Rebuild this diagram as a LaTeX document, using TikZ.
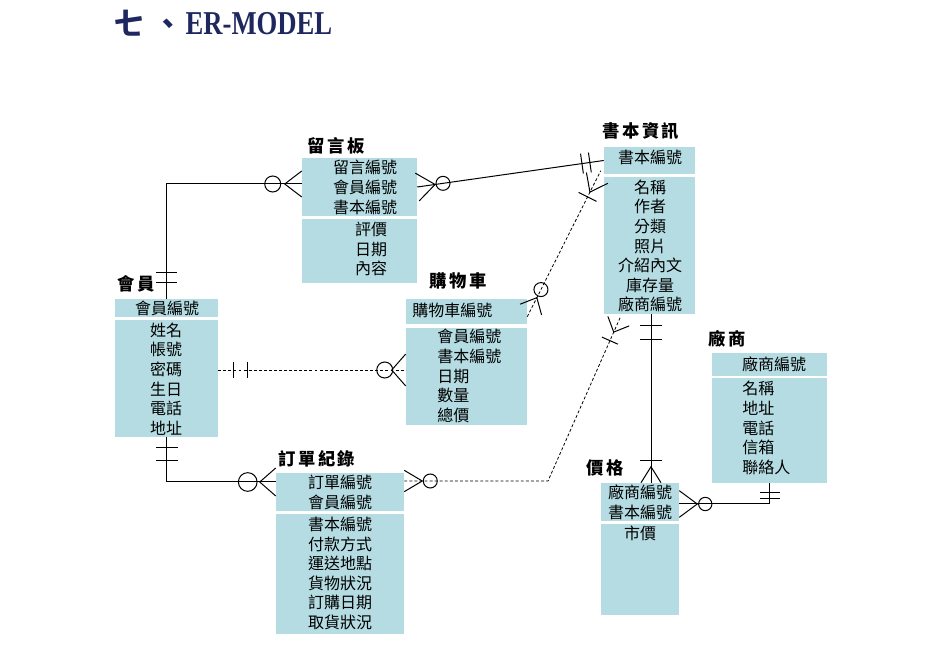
\documentclass[tikz,border=0pt]{standalone}
\usepackage{fontspec}
\usetikzlibrary{calc,fit}
\newfontfamily\cjk{Noto Sans CJK TC}
\newfontfamily\cjklab[LetterSpace=14]{Noto Sans CJK TC}
\newfontfamily\titlefont[FakeStretch=0.8]{Liberation Serif}
\definecolor{boxfill}{RGB}{180,220,226}
\definecolor{titleblue}{RGB}{30,40,95}
\newcommand{\erbar}[4]{\draw[mk] ($($(#1)!#3!(#2)$)!#4!90:(#2)$) -- ($($(#1)!#3!(#2)$)!#4!-90:(#2)$);}
\newcommand{\erfoot}[5]{\draw[mk] ($($(#1)!#3!(#2)$)!#5!90:(#2)$) -- ($(#1)!#4!(#2)$) -- ($($(#1)!#3!(#2)$)!#5!-90:(#2)$);}
\newcommand{\ercirc}[4]{\draw[mk] ($(#1)!#3!(#2)$) circle (#4);}
\tikzset{
  box/.style={rectangle, fill=boxfill, draw=none, inner sep=0pt},
  attr/.style={font={\cjk\fontsize{12}{14.7}\selectfont}, inner sep=0pt, align=center},
  lab/.style={font={\cjklab\bfseries\fontsize{13}{15}\selectfont}, inner sep=0pt},
  conn/.style={line width=0.75pt},
  dconn/.style={line width=0.6pt, dash pattern=on 2.2pt off 1.6pt},
  mk/.style={line width=0.75pt, solid}
}
\begin{document}
\begin{tikzpicture}[x=0.75pt,y=-0.75pt]
\useasboundingbox (0,0) rectangle (926,659);
% title
\node[anchor=base west, inner sep=0pt, text=titleblue] (title) at (114,35)
  {{\cjk\bfseries\fontsize{22}{24}\selectfont 七\hspace{7.5pt}、}\hspace{2pt}{\titlefont\bfseries\fontsize{25}{28}\selectfont ER-MODEL}};
% boxes
\node[box, fit={(302,158) (417,216)}] (msg1) {};
\node[box, fit={(302,219) (417,283)}] (msg2) {};
\node[box, fit={(115,299) (218,317)}] (mem1) {};
\node[box, fit={(115,320) (218,437)}] (mem2) {};
\node[box, fit={(406,299) (527,324)}] (cart1) {};
\node[box, fit={(406,328) (527,425)}] (cart2) {};
\node[box, fit={(604,147) (695,174)}] (book1) {};
\node[box, fit={(604,177) (695,314)}] (book2) {};
\node[box, fit={(712,353) (827,376)}] (ven1) {};
\node[box, fit={(712,378) (827,483)}] (ven2) {};
\node[box, fit={(601,483) (679,521)}] (price1) {};
\node[box, fit={(601,524) (679,615)}] (price2) {};
\node[box, fit={(276,473) (404,511)}] (ord1) {};
\node[box, fit={(276,514) (404,634)}] (ord2) {};
% labels
\node[lab] (lmsg) at (336,146) {留言板};
\node[lab] (lmem) at (136,284) {會員};
\node[lab] (lcart) at (458,280.5) {購物車};
\node[lab] (lbook) at (641,131.5) {書本資訊};
\node[lab] (lven) at (727,339) {廠商};
\node[lab] (lprice) at (605,468) {價格};
\node[lab] (lord) at (317,459) {訂單紀錄};
% texts
\node[attr] (tmsg1) at (365,187.5) {留言編號\\會員編號\\書本編號};
\node[attr] (tmsg2) at (371,249) {評價\\日期\\內容};
\node[attr] (tmem1) at (167,308) {會員編號};
\node[attr] (tmem2) at (166,379) {姓名\\帳號\\密碼\\生日\\電話\\地址};
\node[attr, anchor=west] (tcart1) at (412,310.5) {購物車編號};
\node[attr, anchor=west, align=left] (tcart2) at (437,376) {會員編號\\書本編號\\日期\\數量\\總價};
\node[attr] (tbook1) at (650,157) {書本編號};
\node[attr] (tbook2) at (650,246) {名稱\\作者\\分類\\照片\\介紹內文\\庫存量\\廠商編號};
\node[attr] (tven1) at (774,364.5) {廠商編號};
\node[attr, anchor=west, align=left] (tven2) at (742,428) {名稱\\地址\\電話\\信箱\\聯絡人};
\node[attr] (tprice1) at (640,502) {廠商編號\\書本編號};
\node[attr] (tprice2) at (640,533) {市價};
\node[attr] (tord1) at (340,492.5) {訂單編號\\會員編號};
\node[attr] (tord2) at (340,573.5) {書本編號\\付款方式\\運送地點\\貨物狀況\\訂購日期\\取貨狀況};
% A: member - message board
\coordinate (cA) at (166.5,184);
\draw[conn] (mem1.north) -- (cA) -- (msg1.west |- cA);
\erbar{mem1.north}{cA}{12pt}{8pt}
\erbar{mem1.north}{cA}{19.5pt}{8pt}
\erfoot{msg1.west |- cA}{cA}{0pt}{12.75pt}{9.75pt}
\ercirc{msg1.west |- cA}{cA}{21.75pt}{6pt}
% B: message board - book
\draw[conn] (msg1.east) -- (book1.west);
\erfoot{msg1.east}{book1.west}{0pt}{13.5pt}{10.5pt}
\ercirc{msg1.east}{book1.west}{19.5pt}{5.25pt}
\erbar{book1.west}{msg1.east}{10.5pt}{7.5pt}
\erbar{book1.west}{msg1.east}{16.5pt}{7.5pt}
% C: cart - book
\coordinate (cS) at ($(cart1.north east)+(0,18)$);
\coordinate (cT) at ($(book2.north west)+(-3,-6)$);
\draw[dconn] (cS) -- (cT);
\erfoot{cS}{cT}{6pt}{16pt}{9pt}
\ercirc{cS}{cT}{22.8pt}{5.25pt}
\erfoot{cT}{cS}{6pt}{18pt}{9pt}
\erbar{cT}{cS}{22pt}{7.5pt}
% D: member - cart
\coordinate (yD) at (0,370);
\coordinate (dS) at (mem2.east |- yD);
\coordinate (dT) at (cart2.west |- yD);
\draw[dconn] (dS) -- (dT);
\erbar{dS}{dT}{11.25pt}{6pt}
\erbar{dS}{dT}{21.75pt}{6pt}
\erfoot{dT}{dS}{0pt}{10.5pt}{12pt}
\ercirc{dT}{dS}{15.75pt}{6pt}
% E: member - order
\coordinate (cE) at (166.5,482);
\draw[conn] (mem2.south) -- (cE) -- (ord1.west |- cE);
\erbar{mem2.south}{cE}{7.5pt}{8.25pt}
\erbar{mem2.south}{cE}{17.25pt}{8.25pt}
\erfoot{ord1.west |- cE}{cE}{0pt}{12pt}{10.5pt}
\ercirc{ord1.west |- cE}{cE}{21pt}{7pt}
% F: order - book
\coordinate (yF) at (0,481);
\coordinate (fS) at (ord1.east |- yF);
\coordinate (cF) at (548,481);
\coordinate (fT) at ($(book2.south west)+(17,2)$);
\draw[dconn] (fS) -- (cF) -- (fT);
\erfoot{fS}{cF}{0pt}{13.5pt}{8pt}
\ercirc{fS}{cF}{19.5pt}{5.25pt}
\erfoot{fT}{cF}{4pt}{13pt}{8.75pt}
\erbar{fT}{cF}{20pt}{6.5pt}
% G: book - price
\coordinate (xG) at (651,0);
\coordinate (gS) at (book2.south -| xG);
\coordinate (gT) at (price1.north -| xG);
\draw[conn] (gS) -- (gT);
\erbar{gS}{gT}{8.25pt}{8.6pt}
\erbar{gS}{gT}{18.75pt}{8.6pt}
\erfoot{gT}{gS}{0pt}{12pt}{7.5pt}
\erbar{gT}{gS}{16.5pt}{8.25pt}
% H: price - vendor
\coordinate (cH) at (769.5,504);
\draw[conn] (price1.east |- cH) -- (cH) -- (ven2.south);
\erfoot{price1.east |- cH}{cH}{0pt}{13.5pt}{10pt}
\ercirc{price1.east |- cH}{cH}{19.5pt}{5pt}
\erbar{ven2.south}{cH}{6.75pt}{7.5pt}
\erbar{ven2.south}{cH}{11.25pt}{7.5pt}
\end{tikzpicture}
\end{document}
